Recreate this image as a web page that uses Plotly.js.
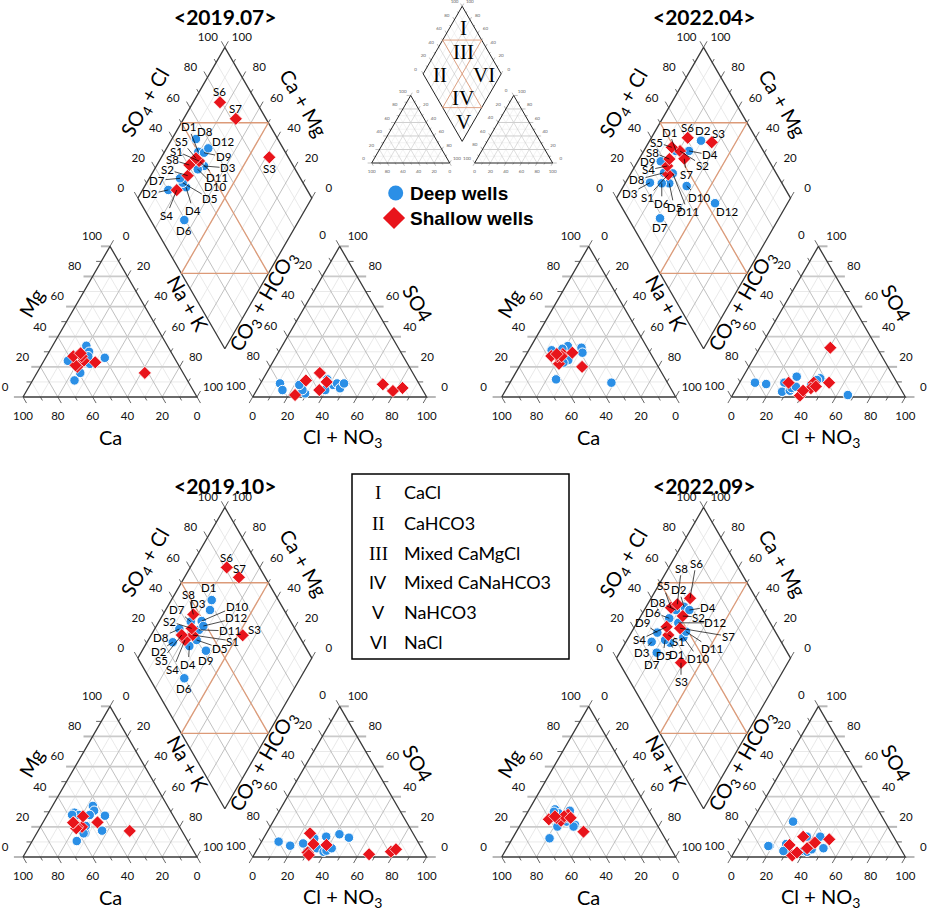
<!DOCTYPE html>
<html><head><meta charset="utf-8">
<script src="https://cdn.plot.ly/plotly-3.0.1.min.js"></script>
<style>body{margin:0;background:#fff}</style>
</head><body><div id="chart" style="width:930px;height:914px"></div>
<script>
// ---------------- DATA (percent of meq) ----------------
const campaigns = ['2019.07', '2022.04', '2019.10', '2022.09'];
const deepWells = ['D1','D2','D3','D4','D5','D6','D7','D8','D9','D10','D11','D12'];
const shallowWells = ['S1','S2','S3','S4','S5','S6','S7','S8'];

// one row per campaign (same order as campaigns)
const deepNaK = [
  [19.4,14.8,27.4,24.1,20.7,34.0,17.7,13.8,23.0,24.9,23.7,24.0],
  [18.6,29.5,14.1,26.0,25.4,21.1,31.7,18.9,13.2,36.3,24.1,58.3],
  [23.2,14.8,25.5,25.6,27.8,33.4,18.3,14.2,36.7,24.4,25.8,27.0],
  [25.6,21.7,14.8,25.9,21.9,17.1,21.3,18.2,15.0,31.5,31.2,23.8]];
const deepMg = [
  [34,27,22,11,20,26,28,24,30,16,26,27],
  [30,32.7,30,24.5,11.7,33.8,29.4,32,31,20,22.8,9.5],
  [33.9,29.4,30.7,10.6,16,27.4,27.9,28,17.5,27.9,20.6,15.7],
  [23.5,27.9,31.6,25.7,20.2,26.1,12.4,29,30,21.3,20.2,30.7]];
const deepSO4Cl = [
  [50.1,20.2,48.7,31.3,30.9,19.4,30.8,53.0,53.1,44.0,47.8,57.0],
  [49.8,67.6,24.3,57.3,35.2,30.9,18.3,35.7,37.6,44.3,40.5,54.9],
  [61.7,25.3,57.4,33.6,39.8,20.0,42.5,33.5,41.6,49.0,44.5,48.3],
  [35.8,55.8,25.6,57.8,33.9,43.5,24.9,50.1,31.9,45.3,48.7,47.2]];
const deepSO4 = [
  [8,9,11.7,2.4,4.6,4.6,8,9,5.8,4.6,10,9],
  [8,1.3,8.6,12.4,9.5,3.5,9.5,4.2,6,13.5,6.8,11.3],
  [12.8,7.5,15.1,4.2,5.8,10.2,3.5,9,12.4,13.5,4.2,5.8],
  [8.6,5.8,7.3,13.5,4,4,7.3,13.5,4,3.5,5.1,23.5]];

const shallowNaK = [
  [22.9,21.2,62.0,19.7,20.2,15.4,30.0,18.6],
  [21.9,20.9,36.2,18.5,14.9,20.9,25.9,17.4],
  [23.9,21.1,52.7,21.1,17.6,21.0,31.3,17.4],
  [22.1,24.1,38.6,18.4,14.6,22.4,26.6,17.1]];
const shallowMg = [
  [24,20,16,21,27,27,23,29],
  [22,28.5,20,27,27.2,27,29.4,28.5],
  [20,20,17.3,19,23,27,23,22.8],
  [24,28,16.8,26,25,27,26,27]];
const shallowSO4Cl = [
  [47.5,36.1,89.1,25.0,46.6,79.0,82.6,40.6],
  [37.6,52.1,73.2,39.8,48.6,60.9,52.0,43.3],
  [39.2,40.8,67.8,33.1,32.9,81.2,84.9,46.4],
  [37.4,52.0,35.5,39.2,48.0,62.1,46.4,52.8]];
const shallowSO4 = [
  [10,11,6,1.3,16,8.4,4,4.6],
  [9.5,9.5,32.7,0.9,5.8,9.5,7,4.2],
  [8.6,15.7,1.8,3,1.3,3.5,5.1,8],
  [8,9.5,1,3,13.5,11.7,5.8,9.5]];

const typeNumerals = ['I','II','III','IV','V','VI'];
const typeNames = ['CaCl','CaHCO3','Mixed CaMgCl','Mixed CaNaHCO3','NaHCO3','NaCl'];

// ---------------- LAYOUT CONSTANTS ----------------
const H = Math.sqrt(3)/2, GAP = 0.32, K = 174;
const origins = [[23,397],[501.7,397],[23,857],[501.7,857]];
const titleY = [16,16,485,485];
const miniOrigin = [371.7,163], miniK = 78;
// label placement in px: [dx, dy, leader]
const labelPlacement = [
 {D1:[-10,-25,1],D2:[-18,4,1],D3:[24,2,1],D4:[7,23,1],D5:[27,16,1],D6:[0,10,0],D7:[-23,2,1],D8:[9,-8,0],D9:[19,4,1],D10:[17,17,1],D11:[17,16,1],D12:[15,-7,0],
  S1:[-23,-10,1],S2:[-20,-6,1],S3:[0,11,0],S4:[-10,25,1],S5:[-14,-17,1],S6:[0,-11,0],S7:[0,-10,0],S8:[-17,-5,1]},
 {D1:[-7,-19,1],D2:[2,-10,0],D3:[-20,11,1],D4:[21,4,1],D5:[5,24,1],D6:[0,20,1],D7:[0,9,0],D8:[-27,7,1],D9:[-13,0,0],D10:[12,11,1],D11:[15,38,1],D12:[12,8,0],
  S1:[-21,23,1],S2:[22,14,1],S3:[7,-9,0],S4:[-19,4,1],S5:[-15,-5,1],S6:[0,-10,0],S7:[2,16,1],S8:[-17,-7,1]},
 {D1:[-3,-13,0],D2:[-14,9,1],D3:[-12,-7,0],D4:[-1,18,1],D5:[23,8,1],D6:[0,10,0],D7:[-14,-12,1],D8:[-18,8,1],D9:[0,10,0],D10:[35,-15,1],D11:[31,1,1],D12:[33,-8,1],
  S1:[40,6,1],S2:[-22,-7,1],S3:[12,-6,0],S4:[-12,29,1],S5:[-20,25,1],S6:[0,-10,0],S7:[1,-9,0],S8:[-5,-20,1]},
 {D1:[7,12,1],D2:[-5,-17,1],D3:[-10,11,1],D4:[19,-3,1],D5:[-2,15,1],D6:[-16,-6,1],D7:[-5,12,0],D8:[-18,-8,1],D9:[-15,-10,1],D10:[15,21,1],D11:[26,17,1],D12:[37,0,1],
  S1:[10,6,1],S2:[16,1,1],S3:[0,19,1],S4:[-27,13,1],S5:[-8,-22,1],S6:[6,-35,1],S7:[48,8,1],S8:[4,-36,1]}
];

// ---------------- GEOMETRY ----------------
function cat(o,k,m,n){ return [o[0]+k*(0.5*m+n), o[1]-k*H*m]; }
function ani(o,k,so4,cl){ return [o[0]+k*(1+GAP+cl+0.5*so4), o[1]-k*H*so4]; }
function dia(o,k,n,s){ return [o[0]+k*((1+GAP)/2+0.5*(n+s)), o[1]-k*H*(1+GAP+s-n)]; }
function add(p,d){ return [p[0]+d[0], p[1]+d[1]]; }

const stores = {};
function st(name){ return stores[name] || (stores[name] = {x:[],y:[]}); }
function seg(name,a,b){ const s=st(name); s.x.push(a[0],b[0],null); s.y.push(a[1],b[1],null); }
function poly(name,pts){ const s=st(name); pts.forEach(p=>{s.x.push(p[0]); s.y.push(p[1]);}); s.x.push(null); s.y.push(null); }
const tickText = {big:{x:[],y:[],t:[]}, mini:{x:[],y:[],t:[]}};

function frame(o,k,pre,tt){
  const f = k/K;
  const C=(m,n)=>cat(o,k,m,n), A=(a,b)=>ani(o,k,a,b), D=(n,s)=>dia(o,k,n,s);
  for(let i=1;i<10;i++){
    const t=i/10, maj=i%2===0;
    const g = pre+(maj?'gMaj':'gMin'), gh = pre+(maj?'gMajH':'gMin');
    seg(gh, C(t,0), C(t,1-t));
    seg(g, C(0,t), C(1-t,t));
    seg(g, C(0,1-t), C(1-t,0));
    seg(gh, A(t,0), A(t,1-t));
    seg(g, A(0,t), A(1-t,t));
    seg(g, A(0,1-t), A(1-t,0));
    seg(g, D(t,0), D(t,1));
    seg(g, D(0,t), D(1,t));
  }
  // facies boundaries
  seg(pre+'orange', D(0.5,0), D(0.5,1));
  seg(pre+'orange', D(0,0.5), D(1,0.5));
  seg(pre+'orange', D(0,0.5), D(0.5,1));
  seg(pre+'orange', D(0.5,0), D(1,0.5));
  // borders
  poly(pre+'border',[C(0,0),C(1,0),C(0,1),C(0,0)]);
  poly(pre+'border',[A(0,0),A(1,0),A(0,1),A(0,0)]);
  poly(pre+'border',[D(0,0),D(0,1),D(1,1),D(1,0),D(0,0)]);
  for(let i=0;i<=10;i++){
    const t=i/10, maj=i%2===0, L=(maj?7:4)*f;
    const tk=pre+'tick', tkh=pre+(maj?'tickH':'tick');
    let p;
    p=C(t,0); seg(tkh,p,add(p,[-L*1.3,0]));
    p=C(1-t,t); seg(tk,p,add(p,[0.5*L,-H*L]));
    p=C(0,1-t); seg(tk,p,add(p,[0.5*L,H*L]));
    p=A(1-t,0); seg(tk,p,add(p,[-0.5*L,-H*L]));
    p=A(t,1-t); seg(tkh,p,add(p,[L*1.3,0]));
    p=A(0,t); seg(tk,p,add(p,[-0.5*L,H*L]));
    p=D(0,t); seg(tk,p,add(p,[-0.5*L,-H*L]));
    p=D(t,1); seg(tk,p,add(p,[0.5*L,-H*L]));
    if(maj){
      const v=String(Math.round(t*100));
      const put=(pt,d)=>{ const q=add(pt,[d[0]*f,d[1]*f]); tt.x.push(q[0]); tt.y.push(q[1]); tt.t.push(v); };
      put(C(t,0),[-18,-9]);
      put(C(1-t,t),[16,-9]);
      put(C(0,1-t),[0,20]);
      put(A(1-t,0),[-17,-10]);
      put(A(t,1-t),[18,-9]);
      put(A(0,t),[0,20]);
      put(D(0,t),[-17,-9]);
      put(D(1-t,1),[17,-9]);
    }
  }
}

origins.forEach(o=>frame(o,K,'',tickText.big));
frame(miniOrigin,miniK,'m',tickText.mini);

const lineStyles = {
  gMin:['#e0e0e0',0.7], gMaj:['#b0b0b0',0.8], gMajH:['#cbcbcb',1.8],
  tick:['#555',0.9], tickH:['#b8b8b8',2], border:['#3a3a3a',1.3], orange:['#dc9a78',1.3],
  mgMin:['#e6e6e6',0.5], mgMaj:['#bdbdbd',0.5], mgMajH:['#cfcfcf',1], mtick:['#777',0.5], mtickH:['#c0c0c0',1],
  mborder:['#222',1], morange:['#dc9a78',0.9]
};
const traces = [];
Object.keys(lineStyles).forEach(k=>{
  if(!stores[k]) return;
  traces.push({type:'scatter',mode:'lines',x:stores[k].x,y:stores[k].y,
    line:{color:lineStyles[k][0],width:lineStyles[k][1]},hoverinfo:'skip',cliponaxis:false,connectgaps:false});
});
traces.push({type:'scatter',mode:'text',x:tickText.big.x,y:tickText.big.y,text:tickText.big.t,
  textfont:{family:'Lato, Open Sans, sans-serif',size:11.5,color:'#111'},textposition:'middle center',hoverinfo:'skip',cliponaxis:false});
traces.push({type:'scatter',mode:'text',x:tickText.mini.x,y:tickText.mini.y,text:tickText.mini.t,
  textfont:{family:'Lato, sans-serif',size:4.5,color:'#666'},textposition:'middle center',hoverinfo:'skip',cliponaxis:false});

// ---------------- POINTS ----------------
const annotations = [];
const fontLbl = {family:'Lato, Open Sans, sans-serif',size:11.5,color:'#000'};
function wellPoints(names, NaK, Mg, SO4Cl, SO4){
  const xs=[], ys=[];
  campaigns.forEach((c,p)=>{
    const o=origins[p];
    names.forEach((nm,i)=>{
      const n=NaK[p][i]/100, m=Mg[p][i]/100, s=SO4Cl[p][i]/100, so4=SO4[p][i]/100;
      const pc=cat(o,K,m,n), pa=ani(o,K,so4,s-so4), pd=dia(o,K,n,s);
      xs.push(pc[0],pa[0],pd[0]); ys.push(pc[1],pa[1],pd[1]);
      const lp=labelPlacement[p][nm];
      if(lp[2]) annotations.push({x:pd[0],y:pd[1],xref:'x',yref:'y',text:nm,font:fontLbl,showarrow:true,
        ax:lp[0],ay:lp[1],axref:'pixel',ayref:'pixel',arrowhead:0,arrowwidth:0.7,arrowcolor:'#000',standoff:0,borderpad:0});
      else annotations.push({x:pd[0],y:pd[1],xref:'x',yref:'y',text:nm,font:fontLbl,showarrow:false,xshift:lp[0],yshift:-lp[1]});
    });
  });
  return {xs,ys};
}
const dp = wellPoints(deepWells, deepNaK, deepMg, deepSO4Cl, deepSO4);
const sp = wellPoints(shallowWells, shallowNaK, shallowMg, shallowSO4Cl, shallowSO4);
traces.push({type:'scatter',mode:'markers',x:dp.xs,y:dp.ys,marker:{symbol:'circle',size:9.5,color:'#2b8fe6',line:{color:'#fff',width:1}},hoverinfo:'skip',cliponaxis:false});
traces.push({type:'scatter',mode:'markers',x:sp.xs,y:sp.ys,marker:{symbol:'diamond',size:10,color:'#e8141b',line:{color:'#fff',width:0.7}},hoverinfo:'skip',cliponaxis:false});

// legend markers
traces.push({type:'scatter',mode:'markers',x:[395.7],y:[193],marker:{symbol:'circle',size:15,color:'#2b8fe6'},hoverinfo:'skip',cliponaxis:false});
traces.push({type:'scatter',mode:'markers',x:[394],y:[218],marker:{symbol:'diamond',size:17,color:'#e8141b'},hoverinfo:'skip',cliponaxis:false});
annotations.push({x:408,y:193,xref:'x',yref:'y',xanchor:'left',text:'<b>Deep wells</b>',showarrow:false,font:{family:'Liberation Sans, Arial, sans-serif',size:19,color:'#000'}});
annotations.push({x:408,y:218,xref:'x',yref:'y',xanchor:'left',text:'<b>Shallow wells</b>',showarrow:false,font:{family:'Liberation Sans, Arial, sans-serif',size:19,color:'#000'}});

// ---------------- PANEL TEXT ----------------
const fAx = {family:'Lato, Open Sans, sans-serif',size:20,color:'#000'};
campaigns.forEach((c,p)=>{
  const o=origins[p];
  const A=(dx,dy,text,ang)=>annotations.push({x:o[0]+dx,y:o[1]+dy,xref:'x',yref:'y',text,textangle:ang,showarrow:false,font:fAx});
  annotations.push({x:o[0]+202,y:titleY[p],xref:'x',yref:'y',text:'<b>&lt;'+c+'&gt;</b>',showarrow:false,font:{family:'Lato, Open Sans, sans-serif',size:21,color:'#000'}});
  A(122,-294,'SO<sub>4</sub> + Cl',-60);
  A(281,-294,'Ca + Mg',60);
  A(8,-94,'Mg',-60);
  A(165,-94,'Na + K',60);
  A(240,-96,'CO<sub>3</sub> + HCO<sub>3</sub>',-60);
  A(395,-94,'SO4',60);
  A(87,40,'Ca',0);
  A(319,40,'Cl + NO<sub>3</sub>',0);
});

// mini diagram roman numerals
const miniNumPos = [[463,28],[440,75],[463,52],[463,98],[463,122],[484,75]];
typeNumerals.forEach((t,i)=>annotations.push({x:miniNumPos[i][0],y:miniNumPos[i][1],xref:'x',yref:'y',text:t,showarrow:false,
  font:{family:'Liberation Serif, Times New Roman, serif',size:21,color:'#000'}}));

// type box
const boxRowY = [492,523,553,582,612,642];
typeNumerals.forEach((t,i)=>{
  const serif = i<3;
  annotations.push({x:378,y:boxRowY[i],xref:'x',yref:'y',text:t,showarrow:false,
    font:{family: serif?'Liberation Serif, serif':'Lato, sans-serif',size:serif?19:18,color:'#000'}});
  annotations.push({x:402,y:boxRowY[i],xref:'x',yref:'y',xanchor:'left',text:typeNames[i],showarrow:false,
    font:{family:'Lato, sans-serif',size:18,color:'#000'}});
});

const layout = {
  width:930,height:914,margin:{l:0,r:0,t:0,b:0},paper_bgcolor:'#fff',plot_bgcolor:'#fff',showlegend:false,hovermode:false,
  xaxis:{range:[0,930],visible:false,fixedrange:true},
  yaxis:{range:[914,0],visible:false,fixedrange:true},
  annotations,
  shapes:[{type:'rect',xref:'x',yref:'y',x0:352,x1:569,y0:474,y1:659,line:{color:'#000',width:1.5}}]
};
Plotly.newPlot('chart',traces,layout,{staticPlot:true,displayModeBar:false});
</script></body></html>
